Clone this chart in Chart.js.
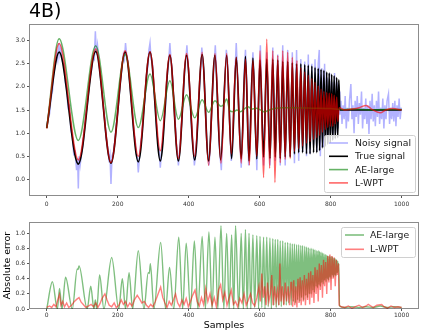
<!DOCTYPE html>
<html lang="en">
<head>
<meta charset="UTF-8" />
<title>4B) signal denoising</title>
<script src="https://cdn.jsdelivr.net/npm/chart.js@4.4.0/dist/chart.umd.min.js"></script>
<style>
  body { margin: 0; background: #fff; }
  #wrap { position: relative; width: 423px; height: 334px; }
  canvas { position: absolute; left: 0; }
  #top { top: 0; }
  #bottom { top: 212px; }
</style>
</head>
<body>
<div id="wrap">
  <canvas id="top" width="423" height="212"></canvas>
  <canvas id="bottom" width="423" height="122"></canvas>
</div>
<script>
// values, [sample, value]
const noisySignal = [
  [0,1.15],[4,1.3],[8,1.42],[12,1.75],[16,1.9],[20,2.3],[24,2.45],[28,2.75],[31,2.6],[34,2.95],[37,2.7],[40,2.85],
  [44,2.55],[48,2.5],[52,2.1],[56,1.95],[60,1.55],[64,1.6],[68,1.05],[72,0.95],[76,0.55],[80,0.6],[84,0.2],[87,0.45],[89,-0.2],[91,0.5],[94,0.3],
  [98,0.55],[102,0.75],[106,1.05],[110,1.4],[114,1.6],[118,1.9],[122,2.2],[126,2.35],[130,2.65],[134,2.6],[137,3.2],[140,2.7],[143,2.9],
  [147,2.55],[151,2.25],[155,1.95],[159,1.6],[163,1.35],[167,0.9],[171,0.75],[175,0.45],[178,0.55],[181,-0.1],[184,0.5],
  [188,0.6],[192,0.85],[196,1.2],[200,1.45],[204,1.8],[208,2.15],[212,2.4],[216,2.7],[219,2.6],[222,2.95],[225,2.7],
  [229,2.55],[233,2.2],[237,1.8],[241,1.5],[245,1.05],[249,0.85],[252,0.55],[255,0.5],[258,0.15],[261,0.45],
  [265,0.8],[269,1.0],[273,1.55],[277,1.7],[281,2.25],[285,2.45],[288,2.8],[291,2.95],[294,2.6],
  [298,2.5],[302,1.9],[306,1.6],[310,1.05],[314,0.75],[317,0.6],[320,0.25],[323,0.55],
  [327,0.85],[331,1.3],[335,1.6],[339,2.2],[343,2.5],[347,2.95],[350,2.6],
  [353,2.4],[357,1.85],[361,1.4],[365,0.8],[368,0.6],[371,0.3],[374,0.55],
  [377,0.9],[381,1.3],[385,1.85],[389,2.4],[392,2.6],[395,2.9],[398,2.5],
  [401,2.2],[405,1.6],[409,0.95],[413,0.7],[416,0.3],[419,0.5],
  [422,0.8],[426,1.3],[430,1.9],[434,2.4],[437,2.85],[440,2.55],
  [443,2.3],[447,1.55],[451,0.85],[454,0.5],[457,0.3],[460,0.6],
  [464,1.3],[468,2.0],[472,2.55],[475,2.9],[478,2.4],
  [482,1.55],[486,0.75],[489,0.45],[492,0.2],
  [495,0.9],[499,1.6],[503,2.3],[506,2.8],[509,2.6],
  [513,1.8],[517,0.9],[520,0.4],[523,0.6],
  [527,1.5],[531,2.4],[534,2.95],[537,2.4],
  [541,1.5],[545,0.7],[548,0.25],
  [551,0.8],[554,1.6],[557,2.4],[560,2.8],
  [563,2.2],[566,1.4],[569,0.3],[571,0.5],
  [575,1.5],[578,2.3],[581,2.75],
  [584,2.2],[587,1.4],[590,0.7],[592,0.2],
  [596,1.5],[599,2.3],[602,2.9],
  [606,1.6],[611,0.3],[615,1.4],[620,2.75],[624,1.6],[629,0.3],[633,1.5],[637,2.85],
  [640,1.5],[644,0.4],[647,1.6],[651,2.7],[654,1.5],[658,0.3],[661,1.5],[665,2.9],
  [668,1.5],[672,0.3],[675,1.5],[679,2.8],[682,1.5],[686,0.5],
  [692,2.75],[698,0.35],[704,2.8],[710,0.4],[716,2.6],[721,0.6],[727,2.55],[732,0.5],[737,2.7],[742,0.55],
  [747,2.5],[752,0.75],[756,2.6],[761,0.6],[765,2.5],[768,2.8],[771,0.5],[775,2.4],[779,0.7],[783,2.5],
  [786,0.9],[790,2.2],[793,0.8],[797,2.3],[800,1.0],[804,2.1],[807,0.9],[811,2.3],[814,1.0],[818,2.1],[821,1.1],[824,1.9],
  [826,1.4],[829,1.7],[832,1.2],[835,1.6],[838,1.3],[841,1.8],[844,1.1],[847,1.55],[850,1.25],[853,1.7],[857,2.06],
  [860,1.3],[863,1.6],[866,1.0],[869,1.7],[872,1.35],[875,1.8],[878,1.2],[881,1.65],[884,1.4],[887,1.9],[890,1.1],
  [893,1.55],[896,1.3],[899,1.75],[902,1.2],[905,1.6],[908,0.98],[911,1.7],[914,1.3],[917,1.85],[920,1.25],[923,1.6],
  [926,1.15],[929,1.7],[932,1.35],[935,1.9],[938,1.2],[941,1.55],[944,1.3],[947,1.75],[950,1.1],[953,1.6],[956,1.3],
  [959,1.7],[963,1.85],[966,1.2],[969,1.55],[972,1.3],[975,1.65],[978,1.25],[981,1.7],[984,1.15],[987,1.6],[990,1.35],
  [993,1.75],[996,1.3],[999,1.55]
];

const trueSignal = [
  [0,1.11],[35,2.75],[89,0.33],[138,2.77],[181,0.35],[221,2.75],[258,0.38],[291,2.75],[320,0.40],[347,2.68],
  [371,0.40],[394,2.68],[417,0.42],[438,2.70],[456,0.40],[474,2.68],[490,0.42],[507,2.68],[521,0.45],[534,2.64],
  [548,0.44],[560,2.66],[570,0.40],[581,2.62],[592,0.44],[601,2.58],[611,0.48],[620,2.60],[629,0.45],[637,2.60],
  [644,0.48],[651,2.58],[658,0.45],[665,2.55],[672,0.48],[679,2.55],[686,0.48],[692,2.52],[698,0.55],[704,2.50],
  [710,0.58],[716,2.50],[721,0.58],[727,2.48],[732,0.55],[737,2.47],[742,0.55],[747,2.45],[752,0.58],[756,2.42],
  [761,0.58],[765,2.40],[769,0.62],[773,2.38],[777,0.68],[781,2.36],[785,0.72],[789,2.32],[792,0.76],[796,2.30],
  [799,0.80],[803,2.27],[806,0.85],[810,2.24],[813,0.88],[817,2.20],[820,0.90],[823,2.15],[826,1.5],[1000,1.5]
];

const aeLarge = [
  [0,1.11],[35,3.04],[89,0.84],[138,2.89],[181,1.02],[221,2.70],[258,1.12],[291,2.28],[320,1.27],[347,2.13],
  [371,1.30],[394,1.83],[417,1.33],[438,1.72],[456,1.45],[474,1.70],[490,1.58],[499,1.62],[507,1.74],[516,1.48],
  [526,1.46],[536,1.50],[546,1.46],[556,1.52],[567,1.57],[578,1.52],[590,1.54],[603,1.50],[614,1.46],[628,1.50],
  [645,1.54],[665,1.55],[700,1.55],[750,1.54],[800,1.53],[830,1.51],[870,1.52],[910,1.50],[950,1.51],[1000,1.51]
];

const lWpt = [
  [0,1.10],[35,2.94],[89,0.42],[138,2.82],[181,0.36],[221,2.78],[258,0.50],[291,2.76],[320,0.62],[347,2.70],
  [371,0.45],[394,2.72],[417,0.50],[438,2.75],[456,0.30],[474,2.72],[491,0.35],[507,2.72],[520,0.55],[534,2.64],
  [548,0.35],[560,2.60],[571,0.31],[581,2.57],[592,0.50],[601,2.78],[611,0.04],[620,3.03],[628,0.24],[637,2.78],
  [643,-0.07],[651,2.68],[658,0.36],[665,2.78],[672,0.43],[679,2.75],[686,0.45],[692,2.64],[698,0.60],[705,2.57],
  [710,0.66],[716,2.42],[721,0.72],[727,2.32],[732,0.78],[737,2.25],[742,0.82],[747,2.18],[752,0.86],[756,2.10],
  [761,0.90],[765,2.02],[769,0.95],[773,1.95],[777,1.02],[781,1.90],[785,1.08],[789,1.88],[792,1.12],[796,1.86],
  [799,1.15],[803,1.85],[806,1.15],[810,1.82],[813,1.20],[817,1.78],[820,1.25],[824,1.55],[840,1.50],[860,1.52],
  [880,1.55],[900,1.60],[915,1.52],[940,1.44],[955,1.50],[975,1.53],[1000,1.50]
];

const errAeLarge = [
  [0,0.0],[16,0.36],[30,0.0],[36,0.27],[43,0.0],[53,0.42],[72,0.0],[86,0.53],[88,0.52],[91,0.57],[114,0.0],
  [124,0.30],[133,0.0],[137,0.12],[141,0.0],[149,0.45],[161,0.0],[183,0.68],[203,0.0],[213,0.40],[222,0.0],
  [232,0.48],[242,0.0],[258,0.77],[274,0.0],[286,0.48],[289,0.47],[292,0.6],[302,0.0],[321,0.88],[335,0.0],
  [346,0.55],[358,0.0],[372,0.95],[383,0.0],[393,0.87],[405,0.0],[416,0.9],[426,0.0],[438,0.96],[447,0.0],
  [457,1.02],[466,0.0],[474,0.95],[482,0.0],[491,1.1],[499,0.0],[507,1.0],[514,0.0],[521,0.98],[527,0.0],
  [532,1.1],[541,0.0],[548,1.0],[554,0.0],[560,1.05],[565,0.0],[570,1.0],[575,0.0],[581,0.98],[586,0.02],
  [592,0.97],[597,0.0],[601,0.96],[606,0.02],[611,0.95],[615,0.0],[620,0.95],[624,0.03],[629,0.94],[633,0.0],
  [637,0.93],[640,0.05],[644,0.92],[647,0.02],[651,0.92],[654,0.05],[658,0.9],[661,0.03],[665,0.9],[668,0.06],
  [672,0.88],[675,0.05],[679,0.88],[682,0.08],[686,0.87],[689,0.05],[692,0.86],[695,0.1],[698,0.86],[701,0.08],
  [704,0.85],[707,0.12],[710,0.85],[713,0.1],[716,0.84],[718,0.15],[721,0.84],[724,0.12],[727,0.83],[730,0.18],
  [732,0.82],[735,0.15],[737,0.81],[740,0.2],[742,0.8],[745,0.2],[747,0.8],[750,0.25],[752,0.79],[754,0.22],
  [756,0.78],[759,0.3],[761,0.77],[763,0.28],[765,0.77],[767,0.32],[769,0.76],[771,0.3],[773,0.75],[775,0.35],
  [777,0.74],[779,0.33],[781,0.73],[783,0.38],[785,0.72],[787,0.36],[789,0.71],[791,0.4],[792,0.7],[794,0.38],
  [796,0.7],[798,0.42],[799,0.69],[801,0.4],[803,0.69],[805,0.45],[806,0.68],[808,0.42],[810,0.67],[812,0.45],
  [813,0.66],[815,0.44],[817,0.65],[819,0.48],[820,0.63],[822,0.5],[823,0.6],[825,0.04],[840,0.02],[860,0.03],
  [880,0.02],[900,0.03],[920,0.02],[940,0.04],[960,0.02],[980,0.03],[1000,0.02]
];

const errLWpt = [
  [0,0.02],[8,0.04],[14,0.02],[20,0.06],[26,0.03],[31,0.12],[36,0.19],[40,0.05],[45,0.1],[50,0.03],[56,0.08],
  [62,0.02],[70,0.05],[78,0.1],[85,0.13],[91,0.15],[97,0.09],[103,0.06],[110,0.02],[118,0.04],[125,0.06],
  [132,0.03],[138,0.08],[144,0.02],[150,0.07],[156,0.14],[164,0.2],[170,0.12],[176,0.05],[183,0.03],[190,0.08],
  [196,0.02],[203,0.05],[210,0.12],[216,0.06],[222,0.1],[228,0.03],[234,0.08],[240,0.04],[247,0.12],[255,0.18],
  [262,0.13],[268,0.08],[275,0.1],[281,0.05],[287,0.02],[293,0.06],[299,0.03],[306,0.1],[314,0.2],[321,0.29],
  [327,0.15],[333,0.08],[339,0.02],[345,0.1],[351,0.05],[357,0.12],[363,0.2],[369,0.08],[375,0.03],[381,0.12],
  [387,0.06],[393,0.14],[399,0.03],[405,0.1],[411,0.18],[418,0.25],[424,0.1],[430,0.04],[436,0.15],[442,0.06],
  [448,0.27],[454,0.1],[460,0.2],[466,0.05],[472,0.15],[478,0.03],[484,0.25],[490,0.32],[496,0.12],[502,0.22],
  [508,0.05],[514,0.15],[520,0.25],[526,0.06],[532,0.1],[538,0.03],[544,0.14],[550,0.08],[556,0.2],[562,0.05],
  [568,0.12],[574,0.2],[580,0.08],[586,0.04],[592,0.15],[598,0.3],[602,0.1],[606,0.47],[610,0.15],[614,0.3],
  [618,0.05],[622,0.35],[626,0.1],[630,0.2],[634,0.45],[638,0.05],[642,0.3],[646,0.1],[650,0.25],[654,0.05],
  [657,0.6],[660,0.1],[664,0.3],[668,0.05],[672,0.35],[676,0.1],[680,0.3],[684,0.05],[688,0.35],[690,0.35],
  [693,0.03],[696,0.38],[699,0.05],[702,0.3],[705,0.02],[708,0.4],[711,0.08],[714,0.42],[717,0.05],[720,0.38],
  [723,0.1],[726,0.45],[729,0.05],[732,0.4],[735,0.12],[738,0.48],[741,0.06],[744,0.5],[747,0.15],[750,0.45],
  [753,0.08],[756,0.55],[759,0.2],[762,0.52],[765,0.1],[768,0.6],[771,0.25],[774,0.58],[777,0.15],[780,0.65],
  [783,0.3],[786,0.62],[789,0.2],[792,0.7],[795,0.35],[798,0.72],[801,0.25],[804,0.7],[807,0.4],[810,0.68],
  [813,0.3],[816,0.65],[819,0.45],[822,0.6],[824,0.05],[830,0.03],[840,0.02],[850,0.04],[860,0.01],[870,0.03],
  [880,0.05],[890,0.02],[900,0.04],[906,0.06],[920,0.02],[930,0.05],[944,0.06],[950,0.03],[960,0.01],[970,0.04],
  [980,0.02],[990,0.03],[1000,0.02]
];

const xTicks = [0, 200, 400, 600, 800, 1000];
const yTicksTop = [0, 0.5, 1, 1.5, 2, 2.5, 3];
const yTicksBottom = [0, 0.2, 0.4, 0.6, 0.8, 1.0];

Chart.defaults.font.family = '"DejaVu Sans", sans-serif';
Chart.defaults.animation = false;

const pts = arr => arr.map(p => ({ x: p[0], y: p[1] }));

// axes frame (matplotlib spines)
const frame = {
  id: 'frame',
  afterDatasetsDraw(chart) {
    const { ctx, chartArea: a } = chart;
    ctx.save();
    ctx.strokeStyle = 'rgba(0,0,0,0.45)';
    ctx.lineWidth = 1;
    ctx.strokeRect(a.left + 0.5, a.top + 0.5, a.width - 1, a.height - 1);
    ctx.restore();
  }
};

// legend box inside the axes
const boxLegend = {
  id: 'boxLegend',
  afterDraw(chart, args, o) {
    const { ctx, chartArea: a } = chart;
    const x = a.left + o.x, y = a.top + o.y;
    ctx.save();
    ctx.beginPath();
    ctx.roundRect(x + 0.5, y + 0.5, o.w, o.h, 2);
    ctx.fillStyle = 'rgba(255,255,255,0.8)';
    ctx.fill();
    ctx.strokeStyle = '#d0d0d0';
    ctx.lineWidth = 1;
    ctx.stroke();
    ctx.font = '9.3px "DejaVu Sans"';
    ctx.textBaseline = 'middle';
    chart.data.datasets.forEach((ds, i) => {
      const yy = y + o.first + i * o.row;
      ctx.strokeStyle = ds.borderColor;
      ctx.lineWidth = 1.6;
      ctx.beginPath();
      ctx.moveTo(x + o.lineX, yy);
      ctx.lineTo(x + o.lineX + 19, yy);
      ctx.stroke();
      ctx.fillStyle = '#1a1a1a';
      ctx.fillText(ds.label, x + o.textX, yy + 0.5);
    });
    ctx.restore();
  }
};

function xAxis(height, pad, title) {
  return {
    type: 'linear', min: -50, max: 1049,
    afterBuildTicks: s => { s.ticks = xTicks.map(v => ({ value: v })); },
    afterFit: s => { s.height = height; },
    grid: { drawOnChartArea: false, tickLength: 2, color: '#555' },
    border: { display: false },
    ticks: { font: { size: 6 }, color: '#333', padding: pad, maxRotation: 0, autoSkip: false, callback: v => String(v) },
    title: title
  };
}

function yAxis(min, max, ticks, title) {
  return {
    min: min, max: max,
    afterBuildTicks: s => { s.ticks = ticks.map(v => ({ value: v })); },
    afterFit: s => { s.width = 29; },
    grid: { drawOnChartArea: false, tickLength: 2, color: '#555' },
    border: { display: false },
    ticks: { font: { size: 6 }, color: '#333', padding: 2, autoSkip: false, callback: v => v.toFixed(1) },
    title: title
  };
}

new Chart(document.getElementById('top'), {
  type: 'line',
  data: {
    datasets: [
      { label: 'Noisy signal', data: pts(noisySignal), borderColor: 'rgba(0,0,255,0.3)', borderWidth: 1.5, order: 4 },
      { label: 'True signal', data: pts(trueSignal), borderColor: '#000000', borderWidth: 1.7, cubicInterpolationMode: 'monotone', order: 3 },
      { label: 'AE-large', data: pts(aeLarge), borderColor: 'rgba(0,128,0,0.6)', borderWidth: 1.5, cubicInterpolationMode: 'monotone', order: 2 },
      { label: 'L-WPT', data: pts(lWpt), borderColor: 'rgba(255,0,0,0.6)', borderWidth: 1.5, cubicInterpolationMode: 'monotone', order: 1 }
    ]
  },
  options: {
    responsive: false,
    layout: { padding: { left: 0, right: 4, top: 0, bottom: 0 } },
    elements: { point: { radius: 0 } },
    scales: {
      x: xAxis(16, 3, { display: false }),
      y: yAxis(-0.36, 3.36, yTicksTop, { display: false })
    },
    plugins: {
      legend: { display: false },
      tooltip: { enabled: false },
      title: {
        display: true, text: '4B)', align: 'start', fullSize: false, color: '#000',
        font: { size: 19, weight: 'normal', lineHeight: 1.2 }, padding: { top: 1, bottom: 0.2 }
      },
      boxLegend: { x: 295, y: 111, w: 91, h: 57, first: 8, row: 13.3, lineX: 5, textX: 31 }
    }
  },
  plugins: [frame, boxLegend]
});

new Chart(document.getElementById('bottom'), {
  type: 'line',
  data: {
    datasets: [
      { label: 'AE-large', data: pts(errAeLarge), borderColor: 'rgba(0,128,0,0.5)', borderWidth: 1.4, cubicInterpolationMode: 'monotone', order: 2 },
      { label: 'L-WPT', data: pts(errLWpt), borderColor: 'rgba(255,0,0,0.5)', borderWidth: 1.4, order: 1 }
    ]
  },
  options: {
    responsive: false,
    layout: { padding: { left: 0, right: 4, top: 10, bottom: 0 } },
    elements: { point: { radius: 0 } },
    scales: {
      x: xAxis(25, 1, { display: true, text: 'Samples', color: '#000', font: { size: 9.5 }, padding: { top: 0, bottom: 3 } }),
      y: yAxis(0, 1.15, yTicksBottom, { display: true, text: 'Absolute error', color: '#000', font: { size: 9.5 }, padding: { top: 2, bottom: 0 } })
    },
    plugins: {
      legend: { display: false },
      tooltip: { enabled: false },
      boxLegend: { x: 312, y: 5, w: 74, h: 30, first: 8, row: 14.3, lineX: 4, textX: 29 }
    }
  },
  plugins: [frame, boxLegend]
});
</script>
</body>
</html>
